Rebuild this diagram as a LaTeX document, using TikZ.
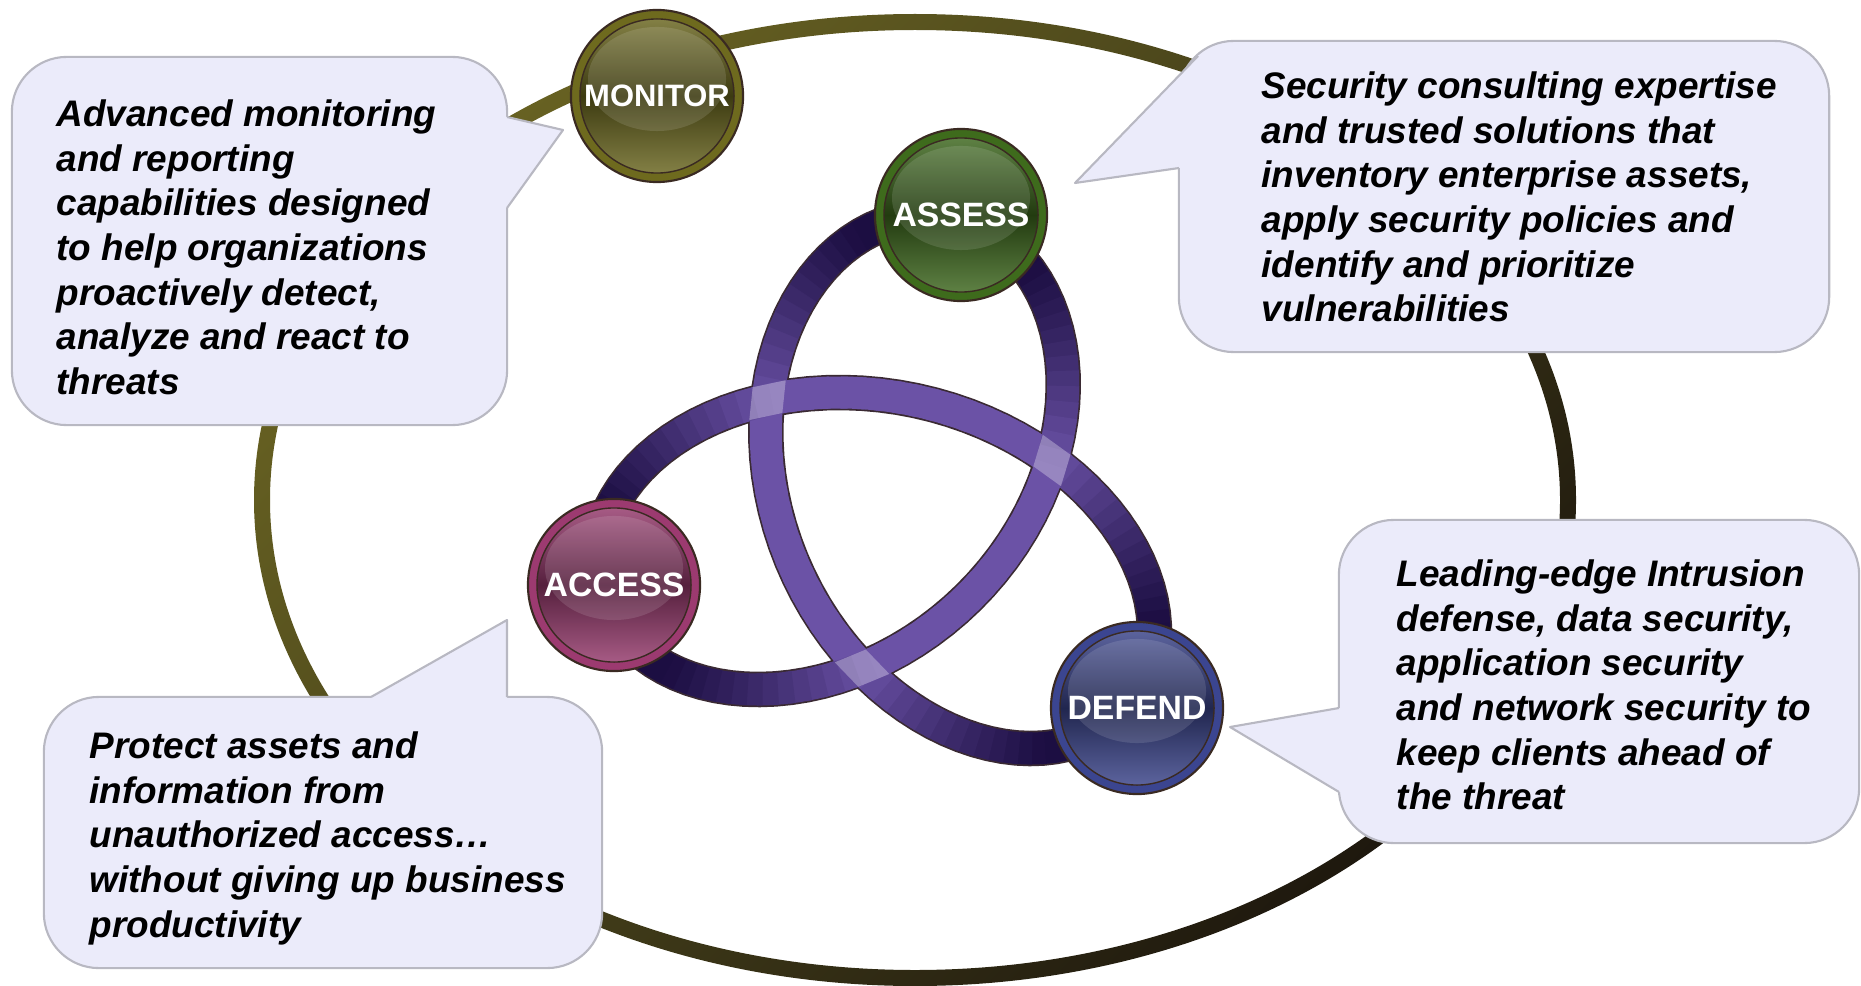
\documentclass[tikz,border=0pt]{standalone}
\usepackage{fontspec}
\setmainfont{Liberation Sans}
\usetikzlibrary{calc}

\definecolor{monitorc}{HTML}{6E6A1E}
\definecolor{assessc}{HTML}{3E6B1C}
\definecolor{accessc}{HTML}{9C3A70}
\definecolor{defendc}{HTML}{3B4590}
\definecolor{knotdark}{HTML}{1C0E42}
\definecolor{knotlight}{HTML}{6B52A6}
\definecolor{knotedge}{HTML}{3A2A33}
\definecolor{bubblefill}{HTML}{EBEBFA}
\definecolor{bubbleline}{HTML}{B8B8C2}
\definecolor{orbline}{HTML}{3A2A22}
\definecolor{ringtop}{HTML}{686222}
\definecolor{ringmid}{HTML}{45401A}
\definecolor{ringbot}{HTML}{1E180E}

\begin{document}
\begin{tikzpicture}[x=0.01cm, y=-0.01cm, line join=round,
orb/.style ={circle, draw=orbline, line width=0.6pt, fill=#1, minimum size=1.72cm, inner sep=0pt,
  text=white, font=\bfseries\fontsize{9.6}{10}\selectfont,
  path picture={
    \shadedraw[draw=orbline, line width=0.4pt, top color=#1!80!white, bottom color=#1!80!white, middle color=#1!55!black]
      (path picture bounding box.center) circle (0.77cm);
    \fill[white, opacity=0.12] ([yshift=0.17cm]path picture bounding box.center) ellipse (0.69cm and 0.52cm);
  }},
bubble/.style ={rectangle, rounded corners=0.55cm, draw=bubbleline, fill=bubblefill, line width=0.6pt},
txt/.style ={align=left, anchor=north west, inner sep=0pt, font=\bfseries\itshape\fontsize{10.5}{12.7}\selectfont},
seg/.style ={line width=0.32cm, line cap=butt},
declare function={ku(\t)=sin(\t)+2.2*sin(2*\t); kv(\t)=cos(\t)-2.2*cos(2*\t);}]
\useasboundingbox (0,0) rectangle (1861,985);

% outer ring
\shade[even odd rule, top color=ringtop, bottom color=ringbot, middle color=ringmid, shading angle=45]
  (915,500) ellipse (661 and 486) (915,500) ellipse (645 and 470);

% trefoil band
\begin{scope}[x=1cm, y=1cm, cm={0.9403,-0.1997,-0.1819,-0.9081,(8.933cm,-5.093cm)}]
  \draw[knotedge, line width=0.355cm] plot[variable=\t, domain=0:360, samples=181] ({ku(\t)},{kv(\t)}) -- cycle;
  \foreach \t in {0,2,...,358}{
    \pgfmathtruncatemacro\dk{100*min(1,max(0,(sqrt(5.84-4.4*cos(3*\t+3))-1.7)/1.25))}
    \draw[seg, knotdark!\dk!knotlight] ({ku(\t-0.4)},{kv(\t-0.4)}) -- ({ku(\t+1)},{kv(\t+1)}) -- ({ku(\t+2.4)},{kv(\t+2.4)});
  }
  \foreach \p in {0,120,240}
    \fill[white, opacity=0.3, rotate=\p] (0.29,1.745) -- (0,1.95) -- (-0.29,1.745) -- (0,1.54) -- cycle;
\end{scope}

% callouts
\node[bubble, minimum width=4.95cm, minimum height=3.68cm] (bM) at (259.5,241) {};
\coordinate (pM) at (563,130);
\fill[bubblefill] (507,117) -- (pM) -- (507,208) -- (500,208) -- (500,117) -- cycle;
\draw[bubbleline, line width=0.6pt] (507,117) -- (pM) -- (507,208);
\node[txt] (tM) at (56,99) {Advanced monitoring\\and reporting\\capabilities designed\\to help organizations\\proactively detect,\\analyze and react to\\threats};

\node[bubble, minimum width=6.50cm, minimum height=3.11cm] (bA) at (1504,196.5) {};
\coordinate (pA) at (1075,183);
\fill[bubblefill] (1198,56) -- (pA) -- (1179,168) -- (1205,168) -- (1205,56) -- cycle;
\draw[bubbleline, line width=0.6pt] (1198,56) -- (pA) -- (1179,168);
\node[txt] (tA) at (1261,71) {Security consulting expertise\\and trusted solutions that\\inventory enterprise assets,\\apply security policies and\\identify and prioritize\\vulnerabilities};

\node[bubble, minimum width=5.58cm, minimum height=2.71cm] (bC) at (323,832.5) {};
\coordinate (pC) at (507,620);
\fill[bubblefill] (371,697) -- (pC) -- (507,703) -- (371,703) -- cycle;
\draw[bubbleline, line width=0.6pt] (371,697) -- (pC) -- (507,697);
\node[txt] (tC) at (89,731) {Protect assets and\\information from\\unauthorized access…\\without giving up business\\productivity};

\node[bubble, minimum width=5.20cm, minimum height=3.23cm] (bD) at (1599,681.5) {};
\coordinate (pD) at (1230,727);
\fill[bubblefill] (1339,708) -- (pD) -- (1339,792) -- (1346,792) -- (1346,708) -- cycle;
\draw[bubbleline, line width=0.6pt] (1339,708) -- (pD) -- (1339,792);
\node[txt] (tD) at (1396,559) {Leading-edge Intrusion\\defense, data security,\\application security\\and network security to\\keep clients ahead of\\the threat};

% the four buttons
\node[orb=monitorc, font=\bfseries\fontsize{8.8}{10}\selectfont] (M) at (657,96) {MONITOR};
\node[orb=assessc] (A) at (961,215) {ASSESS};
\node[orb=accessc] (C) at (614,585) {ACCESS};
\node[orb=defendc] (D) at (1137,708) {DEFEND};
\end{tikzpicture}
\end{document}
